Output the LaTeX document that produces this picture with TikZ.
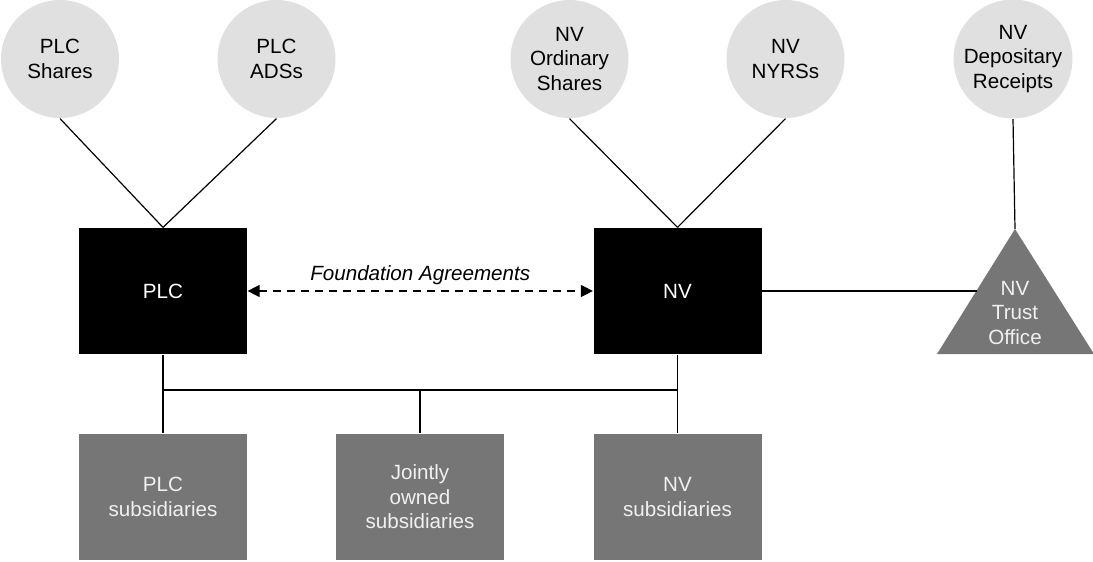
\documentclass[tikz,border=0pt]{standalone}
\usepackage{fontspec}
\setmainfont{Liberation Sans}
\usetikzlibrary{arrows.meta}
\definecolor{lightgr}{HTML}{E0E0E0}
\definecolor{midgr}{HTML}{767676}
\definecolor{txtgr}{HTML}{F0F0F0}
\tikzset{%
    hld/.style={circle,fill=lightgr,minimum size=59pt,inner sep=0pt,align=center},
    co/.style={fill=black,text=white,minimum width=84pt,minimum height=63pt,inner sep=0pt},
    subbox/.style={fill=midgr,text=txtgr,minimum width=84pt,minimum height=63pt,inner sep=0pt,align=center}
}

\begin{document}
\begin{tikzpicture}[x=0.5pt,y=-0.5pt,line width=0.6pt,
        font=\fontsize{10.3}{12.2}\selectfont]
        \useasboundingbox (0,0) rectangle (1093,562);

        \node[hld] (plcsh) at (60,59){PLC\\Shares};
        \node[hld] (plcads) at (276.5,59){PLC\\ADSs};
        \node[hld] (nvord) at (569.5,59){NV\\Ordinary\\Shares};
        \node[hld] (nvnyrs) at (785.5,59){NV\\NYRSs};
        \node[hld] (nvdr) at (1013,59){NV\\Depositary\\Receipts};

        \node[co] (plc) at (163,291){PLC};
        \node[co] (nv) at (677.5,291){NV};

        \node[subbox] (plcsub) at (163,497){PLC\\subsidiaries};
        \node[subbox] (jnt) at (420,497){Jointly\\owned\\subsidiaries};
        \node[subbox] (nvsub) at (677.5,497){NV\\subsidiaries};

        \fill[midgr] (937,354) -- (1015,229) -- (1094,354) -- cycle;
        \node[text=txtgr,align=center] (tro) at (1015,313){NV\\Trust\\Office};
        \coordinate (troa) at (1015,229);
        \coordinate (trol) at (977,291);

        \coordinate (bl) at (163,390);
        \coordinate (bm) at (420,390);
        \coordinate (br) at (677.5,390);

        \draw (plcsh.south) -- (plc.north);
        \draw (plcads.south) -- (plc.north);
        \draw (nvord.south) -- (nv.north);
        \draw (nvnyrs.south) -- (nv.north);
        \draw (nvdr.south) -- (troa);
        \draw (nv.east) -- (trol);

        \draw[dash pattern=on 4pt off 3pt,
            {Triangle[length=6pt,width=6pt]}-{Triangle[length=6pt,width=6pt]}]
            (plc.east) -- node[above,inner sep=3pt]{\itshape Foundation Agreements}(nv.west);

        \draw (plc) -- (plcsub);
        \draw (nv) -- (nvsub);
        \draw (bl) -- (br);
        \draw (bm) -- (jnt);
    \end{tikzpicture}
\end{document}
